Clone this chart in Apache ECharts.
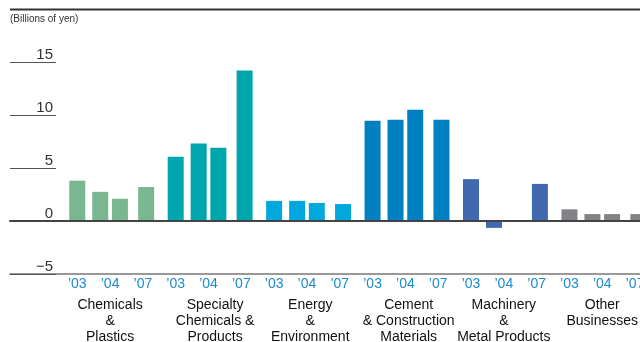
<!DOCTYPE html>
<html>
<head>
<meta charset="utf-8">
<style>
  html, body { margin: 0; padding: 0; background: #fff; }
  #chart { width: 640px; height: 342px; }
</style>
<script src="https://cdn.jsdelivr.net/npm/echarts@6/dist/echarts.min.js"></script>
</head>
<body>
<div id="chart"></div>
<script>
// Operating income by business segment (billions of yen)
const segments = [
  'Chemicals\n&\nPlastics',
  'Specialty\nChemicals &\nProducts',
  'Energy\n&\nEnvironment',
  'Cement\n& Construction\nMaterials',
  'Machinery\n&\nMetal Products',
  'Other\nBusinesses'
];
const yearLabels = ['’03', '’04', '’07'];
const fy03 = [3.8, 6.05, 1.9, 9.45, 3.95, 1.1];
const fy04 = [2.75, 7.3, 1.9, 9.55, -0.65, 0.65];
const fy04b = [2.1, 6.9, 1.7, 10.5, null, 0.65];
const fy07 = [3.2, 14.2, 1.6, 9.55, 3.5, 0.65];
const yTicks = { min: -5, max: 15, step: 5 };

// Layout of the fine category scale: each segment occupies a run of slots
const segmentColors = ['#78b78f', '#00a6ae', '#00a8de', '#0080c0', '#4169b0', '#808285'];
const LEAD_SLOTS = 20;
const SLOTS_PER_SEGMENT = 30;
const barSlot = [0, 7, 13, 21];
const yearSlot = [0, 10, 20];
const nameSlot = [10, 12, 11, 11, 10, 10];

const slotIndex = (g, off) => LEAD_SLOTS + g * SLOTS_PER_SEGMENT + off;
const totalSlots = slotIndex(segments.length - 1, barSlot[barSlot.length - 1]) + 1;

const yearCats = new Array(totalSlots).fill('');
const nameCats = new Array(totalSlots).fill('');
segments.forEach((name, g) => {
  yearLabels.forEach((y, k) => {
    const i = slotIndex(g, yearSlot[k]);
    if (i < totalSlots) yearCats[i] = y;
  });
  nameCats[slotIndex(g, nameSlot[g])] = name;
});
const slotKeys = yearCats.map((_, i) => 's' + i);

function columnSeries(name, values, col) {
  const data = new Array(totalSlots).fill(null);
  values.forEach((v, g) => {
    if (v === null) return;
    data[slotIndex(g, barSlot[col])] = { value: v, itemStyle: { color: segmentColors[g] } };
  });
  return {
    name: name,
    type: 'bar',
    xAxisIndex: 0,
    barWidth: 16,
    barGap: '-100%',
    data: data,
    silent: true
  };
}

const chart = echarts.init(document.getElementById('chart'), null, { renderer: 'canvas' });
const FONT = '"Liberation Sans", Arial, Helvetica, sans-serif';

chart.setOption({
  animation: false,
  textStyle: { fontFamily: FONT },
  grid: { left: 10, right: 0, top: 62, bottom: 68, containLabel: false, outerBoundsMode: 'none' },
  graphic: [
    { type: 'line', shape: { x1: 10, y1: 9.5, x2: 640, y2: 9.5 }, style: { stroke: '#333', lineWidth: 2 } },
    { type: 'text', left: 10, top: 14, style: { text: '(Billions of yen)', fill: '#333', font: '10px ' + FONT } }
  ],
  xAxis: [
    {
      type: 'category', position: 'bottom', data: slotKeys, z: 3,
      axisLine: { onZero: true, lineStyle: { color: '#444', width: 2 } },
      axisTick: { show: false }, axisLabel: { show: false }, splitLine: { show: false }
    },
    {
      type: 'category', position: 'bottom', data: yearCats,
      axisLine: { onZero: false, lineStyle: { color: '#999', width: 2 } },
      axisTick: { show: false },
      axisLabel: { interval: 0, margin: 3, color: '#1a8bcf', fontSize: 14, fontFamily: FONT }
    },
    {
      type: 'category', position: 'bottom', data: nameCats,
      axisLine: { show: false }, axisTick: { show: false },
      axisLabel: { interval: 0, margin: 23, color: '#111', fontSize: 14, lineHeight: 16, fontFamily: FONT }
    }
  ],
  yAxis: {
    type: 'value', position: 'left',
    min: yTicks.min, max: yTicks.max, interval: yTicks.step,
    axisLine: { show: false },
    splitLine: { show: false },
    axisTick: { show: true, inside: true, length: 46, lineStyle: { color: '#555', width: 1 } },
    axisLabel: {
      inside: true, margin: 43, align: 'right', verticalAlign: 'bottom',
      color: '#333', fontSize: 15, fontFamily: FONT,
      formatter: v => String(v).replace('-', '−')
    }
  },
  series: [
    columnSeries('FY2003', fy03, 0),
    columnSeries('FY2004', fy04, 1),
    columnSeries('FY2004 (restated)', fy04b, 2),
    columnSeries('FY2007', fy07, 3)
  ]
});
</script>
</body>
</html>
